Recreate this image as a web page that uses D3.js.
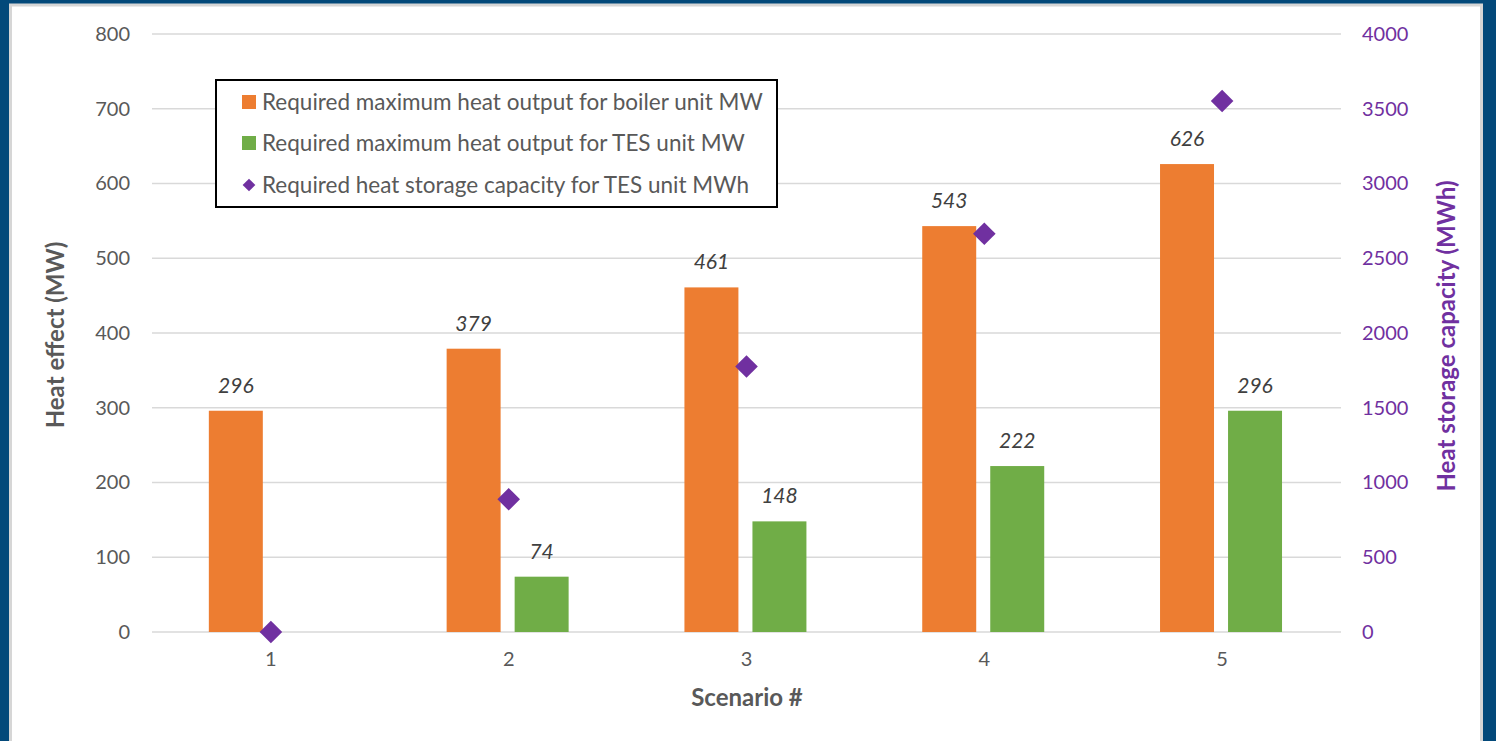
<!DOCTYPE html>
<html>
<head>
<meta charset="utf-8">
<script src="https://cdn.jsdelivr.net/npm/d3@7"></script>
<style>
  html, body { margin: 0; padding: 0; background: #03497a; }
  svg { display: block; }
  text { font-family: Lato, "Liberation Sans", sans-serif; }
</style>
</head>
<body>
<svg id="chart" width="1496" height="741"></svg>
<script>
// ---- data ----
const scenarios = ["1", "2", "3", "4", "5"];
const boilerMW = [296, 379, 461, 543, 626];
const tesMW = [null, 74, 148, 222, 296];
const storageMWh = [0, 888, 1776, 2664, 3552];
const leftTicks = [0, 100, 200, 300, 400, 500, 600, 700, 800];
const rightTicks = [0, 500, 1000, 1500, 2000, 2500, 3000, 3500, 4000];
const seriesNames = [
  "Required maximum heat output for boiler unit MW",
  "Required maximum heat output for TES unit MW",
  "Required heat storage capacity for TES unit MWh"
];

const C_ORANGE = "#ed7d31", C_GREEN = "#70ad47", C_PURPLE = "#7030a0";
const C_TEXT = "#595959", C_LABEL = "#404040", C_GRID = "#d9d9d9";

const svg = d3.select("#chart");

// white panel with light gray edge
svg.append("rect").attr("x", 10.5).attr("y", 5).attr("width", 1471).attr("height", 740)
  .attr("fill", "#ffffff").attr("stroke", "#d6d6d6").attr("stroke-width", 3);

const x = d3.scaleBand().domain(scenarios).range([152, 1341]).paddingInner(0).paddingOuter(0);
const yL = d3.scaleLinear().domain([0, 800]).range([632, 34]);
const yR = d3.scaleLinear().domain([0, 4000]).range([632, 34]);

// gridlines
svg.append("g").selectAll("line").data(leftTicks).join("line")
  .attr("x1", 152).attr("x2", 1341)
  .attr("y1", d => yL(d)).attr("y2", d => yL(d))
  .attr("stroke", C_GRID).attr("stroke-width", 1.5);

// left axis
const gL = svg.append("g").attr("transform", "translate(130,0)")
  .call(d3.axisLeft(yL).tickValues(leftTicks).tickFormat(d3.format("d")).tickSize(0).tickPadding(0));
gL.select(".domain").remove();
gL.selectAll("text").attr("fill", C_TEXT).style("font-size", "20px").style("font-family", "Lato");

// right axis
const gR = svg.append("g").attr("transform", "translate(1362,0)")
  .call(d3.axisRight(yR).tickValues(rightTicks).tickFormat(d3.format("d")).tickSize(0).tickPadding(0));
gR.select(".domain").remove();
gR.selectAll("text").attr("fill", C_PURPLE).style("font-size", "20px").style("font-family", "Lato");

// x axis
const gX = svg.append("g").attr("transform", "translate(0,652)")
  .call(d3.axisBottom(x).tickSize(0).tickPadding(0));
gX.select(".domain").remove();
gX.selectAll("text").attr("fill", C_TEXT).style("font-size", "20px").style("font-family", "Lato");

const bw = x.bandwidth();
const barW = bw * 0.227;
const oOff = bw * 0.5 - bw * 0.261;   // orange left edge offset within band
const gOff = bw * 0.5 + bw * 0.025;   // green left edge offset within band

// orange bars
svg.append("g").selectAll("rect").data(scenarios).join("rect")
  .attr("x", (d) => x(d) + oOff).attr("width", barW)
  .attr("y", (d, i) => yL(boilerMW[i])).attr("height", (d, i) => yL(0) - yL(boilerMW[i]))
  .attr("fill", C_ORANGE);

// green bars
const tesIdx = scenarios.map((d, i) => i).filter(i => tesMW[i] != null);
svg.append("g").selectAll("rect").data(tesIdx).join("rect")
  .attr("x", i => x(scenarios[i]) + gOff).attr("width", barW)
  .attr("y", i => yL(tesMW[i])).attr("height", i => yL(0) - yL(tesMW[i]))
  .attr("fill", C_GREEN);

// data labels
const lblStyle = sel => sel.attr("fill", C_LABEL).attr("text-anchor", "middle")
  .style("font-size", "21px").style("font-style", "italic");
svg.append("g").selectAll("text").data(scenarios).join("text")
  .attr("x", d => x(d) + oOff + barW / 2)
  .attr("y", (d, i) => yL(boilerMW[i]) - 18)
  .text((d, i) => boilerMW[i]).call(lblStyle);
svg.append("g").selectAll("text").data(tesIdx).join("text")
  .attr("x", i => x(scenarios[i]) + gOff + barW / 2)
  .attr("y", i => yL(tesMW[i]) - 18)
  .text(i => tesMW[i]).call(lblStyle);

// diamonds
svg.append("g").selectAll("rect").data(scenarios).join("rect")
  .attr("x", -8).attr("y", -8).attr("width", 16).attr("height", 16)
  .attr("transform", (d, i) => `translate(${x(d) + bw / 2},${yR(storageMWh[i])}) rotate(45)`)
  .attr("fill", C_PURPLE);

// axis titles
svg.append("text").attr("transform", "translate(64,335) rotate(-90)")
  .attr("text-anchor", "middle").attr("fill", C_TEXT)
  .style("font-size", "24px").style("font-weight", "bold").text("Heat effect (MW)");
svg.append("text").attr("transform", "translate(1455,336) rotate(-90)")
  .attr("text-anchor", "middle").attr("fill", C_PURPLE)
  .style("font-size", "24px").style("font-weight", "bold").text("Heat storage capacity (MWh)");
svg.append("text").attr("x", 747).attr("y", 706)
  .attr("text-anchor", "middle").attr("fill", C_TEXT)
  .style("font-size", "24px").style("font-weight", "bold").text("Scenario #");

// legend
const lg = svg.append("g");
lg.append("rect").attr("x", 216).attr("y", 80).attr("width", 561).attr("height", 127)
  .attr("fill", "#ffffff").attr("stroke", "#000000").attr("stroke-width", 2);
const rowsY = [102, 143, 185];
const colors = [C_ORANGE, C_GREEN, C_PURPLE];
seriesNames.forEach((name, i) => {
  if (i < 2) {
    lg.append("rect").attr("x", 242).attr("y", rowsY[i] - 7).attr("width", 14).attr("height", 14).attr("fill", colors[i]);
  } else {
    lg.append("rect").attr("x", -4.5).attr("y", -4.5).attr("width", 9).attr("height", 9)
      .attr("transform", `translate(249,${rowsY[i]}) rotate(45)`).attr("fill", colors[i]);
  }
  lg.append("text").attr("x", 262).attr("y", rowsY[i]).attr("dy", "0.35em")
    .attr("fill", C_TEXT).style("font-size", "22.5px").text(name);
});
</script>
</body>
</html>
